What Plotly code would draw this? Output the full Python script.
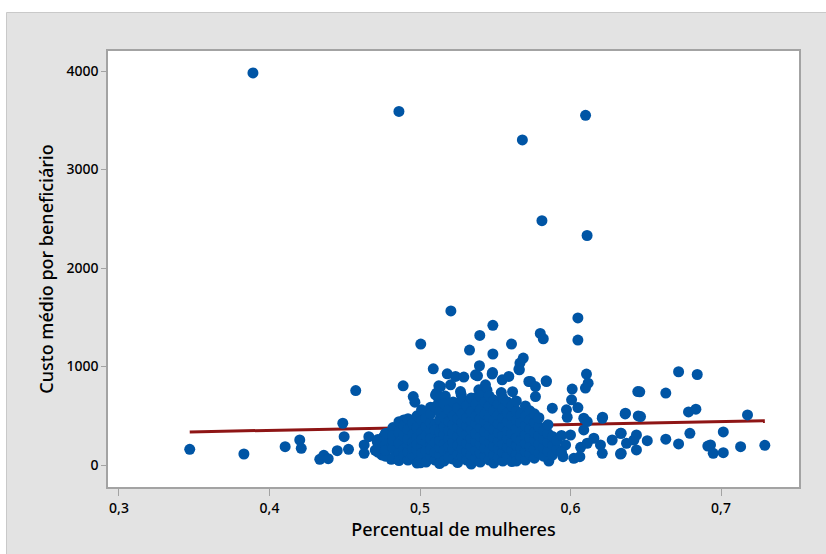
import plotly.graph_objects as go

# Outlying observations (high cost per beneficiary)
outlier_x = [0.389, 0.486, 0.568, 0.610, 0.581, 0.611, 0.5205, 0.5484, 0.6049, 0.5005,
             0.5397, 0.5329, 0.5608, 0.5799, 0.5819, 0.6049, 0.5484, 0.5686, 0.5664, 0.566]
outlier_y = [3980, 3590, 3300, 3550, 2480, 2330, 1564, 1418, 1493, 1228,
             1316, 1167, 1228, 1336, 1282, 1269, 1127, 1086, 1035, 967]

# Sparse points on the left side
left_x = [0.347, 0.383, 0.4104, 0.4201, 0.4211, 0.4334, 0.4361, 0.439, 0.445, 0.4487,
          0.4496, 0.4525, 0.4573, 0.4629, 0.4629, 0.466, 0.4746, 0.4809, 0.476, 0.4716,
          0.4758, 0.4786, 0.4815, 0.4760, 0.4703]
left_y = [160, 112, 186, 254, 170, 58, 99, 64, 146, 424,
          288, 160, 756, 204, 119, 288, 102, 58, 186, 237,
          288, 322, 68, 102, 150]

# Scattered points above the main cloud
upper_x = [0.4888, 0.4955, 0.4966, 0.5088, 0.5181, 0.5236, 0.5291, 0.5136, 0.511, 0.5214,
           0.507, 0.5125, 0.4892, 0.5021, 0.5395, 0.5369, 0.5482, 0.5546, 0.559, 0.5723,
           0.5435, 0.5391, 0.554, 0.5358, 0.5274, 0.5767, 0.584, 0.6106, 0.6117, 0.6099,
           0.6011, 0.6007, 0.5838, 0.5382, 0.5479, 0.5125, 0.5103, 0.5203, 0.5734, 0.5767,
           0.521, 0.5402, 0.5269, 0.5003, 0.5203, 0.5103, 0.5657, 0.5445, 0.5615, 0.5168]
upper_y = [804, 695, 638, 977, 926, 899, 893, 797, 730, 560,
           587, 644, 458, 543, 1008, 916, 939, 865, 899, 848,
           814, 763, 736, 679, 712, 695, 848, 923, 831, 781,
           771, 662, 855, 906, 923, 804, 712, 814, 848, 797,
           543, 679, 746, 23, 68, 92, 974, 760, 745, 700]

# Points to the right of the main cloud
right_x = [0.5879, 0.6049, 0.5973, 0.5978, 0.6088, 0.6211, 0.6111, 0.600, 0.6088, 0.6155,
           0.6277, 0.6332, 0.5967, 0.6067, 0.6111, 0.6199, 0.6211, 0.6332, 0.595, 0.6022,
           0.6062, 0.5856, 0.6718, 0.6842, 0.646, 0.6633, 0.6365, 0.645, 0.6465, 0.6784,
           0.6833, 0.7176, 0.6213, 0.6337, 0.6372, 0.6438, 0.6438, 0.6421, 0.651, 0.6633,
           0.6718, 0.6793, 0.6912, 0.693, 0.6948, 0.7015, 0.7015, 0.713, 0.7291, 0.6363,
           0.6447, 0.6337]
right_y = [577, 583, 560, 485, 475, 475, 441, 305, 356, 272,
           254, 322, 204, 180, 221, 204, 119, 112, 85, 68,
           85, 41, 947, 919, 743, 730, 526, 499, 492, 539,
           567, 509, 485, 322, 221, 305, 153, 254, 247, 262,
           214, 322, 193, 204, 119, 336, 125, 186, 200, 519,
           746, 119]

# Main cloud, listed column by column (x value, then its y values)
cloud = [
    (0.472, [180, 260, 130]),
    (0.477, [90, 210, 320, 150]),
    (0.482, [70, 170, 250, 380, 300]),
    (0.486, [120, 220, 330, 440, 45]),
    (0.489, [160, 290, 400, 90]),
    (0.492, [50, 200, 260, 360, 470, 130]),
    (0.495, [100, 310, 420, 230, 170]),
    (0.498, [20, 150, 280, 380, 500, 210]),
    (0.501, [80, 190, 330, 450, 560, 260, 120]),
    (0.504, [30, 140, 240, 390, 300, 480]),
    (0.507, [90, 200, 350, 430, 520, 160, 270]),
    (0.510, [50, 130, 300, 410, 590, 230, 360]),
    (0.513, [100, 180, 250, 460, 340, 540, 15]),
    (0.516, [40, 210, 310, 390, 620, 150, 490]),
    (0.519, [120, 270, 350, 440, 560, 80, 190]),
    (0.522, [60, 160, 230, 320, 410, 500, 640]),
    (0.525, [25, 110, 290, 380, 470, 200, 580]),
    (0.528, [90, 170, 250, 340, 430, 520, 660]),
    (0.531, [50, 140, 220, 310, 400, 600, 480]),
    (0.534, [100, 190, 270, 360, 450, 540, 680, 10]),
    (0.537, [70, 150, 240, 320, 420, 500, 620]),
    (0.540, [30, 120, 210, 290, 380, 470, 560, 700]),
    (0.543, [90, 170, 260, 340, 440, 520, 640]),
    (0.546, [50, 140, 230, 310, 400, 490, 600, 700]),
    (0.549, [100, 190, 280, 360, 460, 550, 660, 20]),
    (0.552, [70, 160, 240, 330, 420, 510, 620]),
    (0.555, [40, 130, 210, 300, 390, 480, 570, 680]),
    (0.558, [90, 180, 270, 350, 440, 530, 640]),
    (0.561, [35, 150, 230, 320, 410, 500, 600]),
    (0.564, [110, 200, 280, 370, 460, 550, 650, 40]),
    (0.567, [80, 170, 250, 340, 430, 520]),
    (0.570, [50, 140, 220, 310, 400, 490, 600]),
    (0.573, [110, 190, 280, 370, 460, 550]),
    (0.576, [70, 160, 250, 330, 430, 520]),
    (0.579, [120, 210, 300, 390, 480]),
    (0.582, [90, 180, 260, 350]),
    (0.585, [140, 230, 320, 410]),
    (0.588, [100, 200, 290]),
    (0.591, [160, 250]),
    (0.594, [130, 300]),
]

# Fitted regression line: custo = intercept + slope * percentual
fit_intercept = 232
fit_slope = 300

x_ticks = [0.3, 0.4, 0.5, 0.6, 0.7]
x_tick_labels = ["0,3", "0,4", "0,5", "0,6", "0,7"]
y_ticks = [0, 1000, 2000, 3000, 4000]
y_tick_labels = ["0", "1000", "2000", "3000", "4000"]

xs = outlier_x + left_x + upper_x + right_x
ys = outlier_y + left_y + upper_y + right_y
for cx, col in cloud:
    xs += [cx] * len(col)
    ys += col

x_min, x_max = min(xs), max(xs)
fit_x = [x_min, x_max]
fit_y = [fit_intercept + fit_slope * v for v in fit_x]

fig = go.Figure()
# Fitted line first so the observations are drawn over it
fig.add_trace(go.Scatter(
    x=fit_x, y=fit_y, mode="lines",
    line=dict(color="#8E1515", width=3),
    showlegend=False, hoverinfo="skip",
))
fig.add_trace(go.Scatter(
    x=xs, y=ys, mode="markers",
    marker=dict(size=11, color="#0055A5", line=dict(width=0)),
    showlegend=False, hoverinfo="x+y",
))

W, H = 826, 554
ml, mr, mt, mb = 108, 27, 51, 67
pw, ph = W - ml - mr, H - mt - mb


def px_to_paper_x(p):
    return (p - ml) / pw


def px_to_paper_y(p):
    return (H - mb - p) / ph


# Grey outer panel with a thin border, and white plot panel on top of it
fig.add_shape(type="rect", xref="paper", yref="paper", layer="below",
              x0=px_to_paper_x(6.5), x1=px_to_paper_x(W + 5),
              y0=px_to_paper_y(H + 5), y1=px_to_paper_y(12.5),
              fillcolor="#E3E3E3", line=dict(color="#C9C9C9", width=1))
fig.add_shape(type="rect", xref="paper", yref="paper", layer="below",
              x0=0, x1=1, y0=0, y1=1,
              fillcolor="white", line=dict(width=0))

font_family = "Noto Sans, Open Sans, DejaVu Sans, sans-serif"
text_color = "#000000"

fig.update_layout(
    width=W, height=H,
    margin=dict(l=ml, r=mr, t=mt, b=mb),
    paper_bgcolor="white",
    plot_bgcolor="white",
    font=dict(family=font_family, color=text_color, size=14),
    xaxis=dict(
        range=[0.2927, 0.7518],
        tickvals=x_ticks, ticktext=x_tick_labels,
        showgrid=False, zeroline=False,
        showline=True, mirror=True, linecolor="#A3A3A3", linewidth=1.5,
        ticks="outside", ticklen=7, tickcolor="#A3A3A3", tickwidth=1,
        tickfont=dict(size=14, color=text_color, weight=500),
        title=dict(text="Percentual de mulheres",
                   font=dict(size=18, color=text_color, weight=500), standoff=6),
    ),
    yaxis=dict(
        range=[-223, 4203],
        tickvals=y_ticks, ticktext=y_tick_labels,
        showgrid=False, zeroline=False,
        showline=True, mirror=True, linecolor="#A3A3A3", linewidth=1.5,
        ticks="outside", ticklen=5, tickcolor="#A3A3A3", tickwidth=1,
        tickfont=dict(size=14, color=text_color, weight=500),
        title=dict(text="Custo médio por beneficiário",
                   font=dict(size=18, color=text_color, weight=500), standoff=8),
    ),
)

fig.write_html("out.html")
